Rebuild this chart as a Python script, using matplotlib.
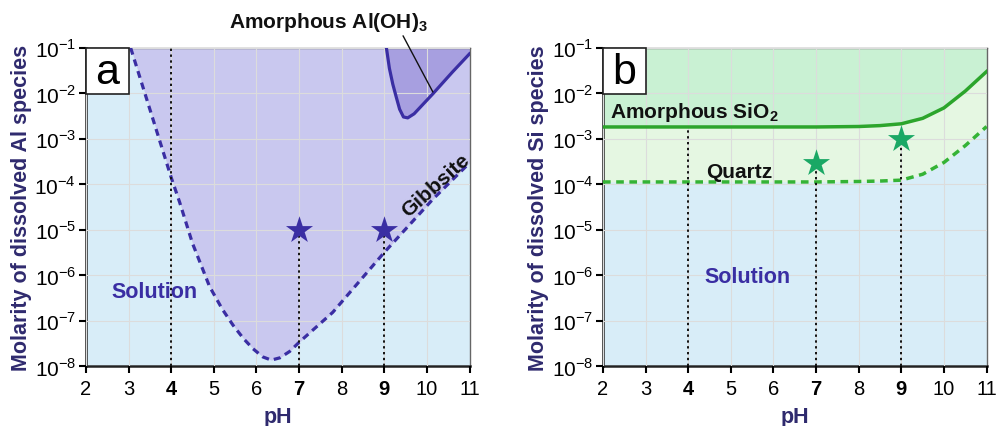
import numpy as np
import matplotlib.pyplot as plt
from matplotlib.patches import Rectangle

plt.rcParams['font.family'] = ['Liberation Sans', 'DejaVu Sans']
plt.rcParams['mathtext.fontset'] = 'custom'
plt.rcParams['mathtext.rm'] = 'Liberation Sans'
plt.rcParams['mathtext.bf'] = 'Liberation Sans:bold'

# ---------------------------------------------------------------
# data (log10 of molarity)
# ---------------------------------------------------------------
gib_ph = [3.05, 4.0, 4.2, 4.5, 4.9, 5.2, 5.45, 5.7, 5.92, 6.15, 6.35, 6.55, 6.78, 7.0, 7.79, 9.0, 10.14, 11.0]
gib_log = [-1.0, -3.85, -4.40, -5.30, -6.25, -6.75, -7.10, -7.40, -7.62, -7.80, -7.87, -7.82, -7.68, -7.48, -6.82, -5.50, -4.33, -3.53]

amo_al_ph = [9.05, 9.12, 9.2, 9.28, 9.36, 9.45, 9.55, 9.7, 10.14, 10.6, 11.0]
amo_al_log = [-1.0, -1.45, -1.8, -2.08, -2.35, -2.52, -2.54, -2.45, -2.01, -1.53, -1.13]

si_ph = [2, 3, 4, 5, 6, 7, 8, 8.5, 9, 9.5, 10, 10.5, 11]
amo_si_log = [-2.74, -2.74, -2.74, -2.74, -2.74, -2.74, -2.73, -2.71, -2.67, -2.55, -2.32, -1.95, -1.52]
qtz_log = [-3.95, -3.95, -3.95, -3.95, -3.95, -3.95, -3.94, -3.93, -3.91, -3.78, -3.52, -3.15, -2.73]

stars_al_ph = [7, 9]
stars_al = [1e-5, 1e-5]
stars_si_ph = [7, 9]
stars_si = [3e-4, 1e-3]

xticks = list(range(2, 12))
bold_ticks = [4, 7, 9]
yticks = [10.0 ** k for k in range(-8, 0)]

BLUE_BG = '#d8edf8'
PURP = '#c9c8ef'
PURP_DK = '#a79fe0'
PURP_LN = '#3a2ea3'
GREEN_TOP = '#c9f1d3'
GREEN_MID = '#e5f7e2'
GREEN_LN = '#2ca52c'
GREEN_STAR = '#1aa865'
LABEL_C = '#2f2a6e'
DOT = (0, (1.2, 1.8))


def style_axes(ax, ylabel):
    ax.set_yscale('log')
    ax.set_xlim(2, 11)
    ax.set_ylim(1e-8, 1e-1)
    ax.set_xticks(xticks)
    ax.set_yticks(yticks)
    ax.minorticks_off()
    ax.set_yticklabels([r'$10^{%d}$' % k for k in range(-8, 0)], fontsize=15)
    ax.set_xticklabels([str(t) for t in xticks], fontsize=14.5)
    for lab, t in zip(ax.get_xticklabels(), xticks):
        if t in bold_ticks:
            lab.set_fontweight('bold')
    ax.tick_params(direction='out', length=5, width=1.5, pad=2)
    ax.tick_params(axis='x', pad=4)
    ax.grid(True, color='#dcdcdc', lw=0.8, zorder=1)
    ax.set_axisbelow(False)
    for s in ['left', 'bottom']:
        ax.spines[s].set_linewidth(1.8)
        ax.spines[s].set_color('#222222')
    for s in ['top', 'right']:
        ax.spines[s].set_linewidth(1.0)
        ax.spines[s].set_color('#666666')
    ax.set_xlabel('pH', fontsize=15.5, fontweight='bold', color=LABEL_C, labelpad=6)
    ax.set_ylabel(ylabel, fontsize=15.5, fontweight='bold', color=LABEL_C, labelpad=2)


def panel_letter(ax, letter):
    ax.add_patch(Rectangle((0, 0.855), 0.112, 0.145, transform=ax.transAxes,
                           fc='white', ec='#222222', lw=1.2, zorder=9, clip_on=False))
    ax.text(0.056, 0.925, letter, transform=ax.transAxes, fontsize=31, ha='center',
            va='center', zorder=10)


fig = plt.figure(figsize=(9.99, 4.27), dpi=100)
ax1 = fig.add_axes([0.086, 0.1405, 0.384, 0.745])
ax2 = fig.add_axes([0.6036, 0.1405, 0.384, 0.745])

# ---------------- panel a ----------------
ax1.set_facecolor(BLUE_BG)
gx = np.array(gib_ph)
gy = 10.0 ** np.array(gib_log)
ax1.fill_between(gx, gy, 1e-1, color=PURP, lw=0, zorder=0.5)
ax1.plot(gx, gy, ls=(0, (2.2, 1.6)), color=PURP_LN, lw=2.3, zorder=3)

ax_ = np.array(amo_al_ph)
ay_ = 10.0 ** np.array(amo_al_log)
ax1.fill_between(ax_, ay_, 1e-1, color=PURP_DK, lw=0, zorder=2)
ax1.plot(ax_, ay_, color=PURP_LN, lw=2.3, zorder=3)

ax1.vlines(4, 1e-8, 1e-1, colors='#111111', linestyles=DOT, lw=1.4, zorder=4)
for p, v in zip(stars_al_ph, stars_al):
    ax1.vlines(p, 1e-8, v, colors='#111111', linestyles=DOT, lw=1.4, zorder=4)
ax1.scatter(stars_al_ph, stars_al, marker='*', s=420, color=PURP_LN, lw=0, zorder=5)

ax1.text(3.6, 10 ** -6.35, 'Solution', fontsize=15.5, fontweight='bold', color='#3a2ea3',
         ha='center', va='center', zorder=6)
ax1.text(10.2, 10 ** -4.02, 'Gibbsite', fontsize=15, fontweight='bold', color='#111111',
         rotation=42, ha='center', va='center', zorder=6)
ax1.annotate(r'Amorphous Al(OH)$_\mathbf{3}$', xy=(10.14, 10 ** -1.97),
             xytext=(7.68, 10 ** -0.42), fontsize=15, fontweight='bold', color='#111111',
             ha='center', va='center', annotation_clip=False,
             arrowprops=dict(arrowstyle='-', color='#111111', lw=1.0,
                             shrinkA=0, shrinkB=0, relpos=(0.87, 0.0)))
style_axes(ax1, 'Molarity of dissolved Al species')
panel_letter(ax1, 'a')

# ---------------- panel b ----------------
ax2.set_facecolor(BLUE_BG)
sx = np.array(si_ph)
sa = 10.0 ** np.array(amo_si_log)
sq = 10.0 ** np.array(qtz_log)
ax2.fill_between(sx, sa, 1e-1, color=GREEN_TOP, lw=0, zorder=0.5)
ax2.fill_between(sx, sq, sa, color=GREEN_MID, lw=0, zorder=0.5)
ax2.plot(sx, sa, color=GREEN_LN, lw=2.5, zorder=3)
ax2.plot(sx, sq, ls=(0, (2.2, 1.6)), color='#35b335', lw=2.5, zorder=3)

ax2.vlines(4, 1e-8, 10 ** -2.74, colors='#111111', linestyles=DOT, lw=1.4, zorder=4)
for p, v in zip(stars_si_ph, stars_si):
    ax2.vlines(p, 1e-8, v, colors='#111111', linestyles=DOT, lw=1.4, zorder=4)
ax2.scatter(stars_si_ph, stars_si, marker='*', s=420, color=GREEN_STAR, lw=0, zorder=5)

ax2.text(2.17, 10 ** -2.41, r'Amorphous SiO$_\mathbf{2}$', fontsize=15, fontweight='bold',
         color='#111111', ha='left', va='center', zorder=6)
ax2.text(5.2, 10 ** -3.71, 'Quartz', fontsize=15, fontweight='bold', color='#111111',
         ha='center', va='center', zorder=6)
ax2.text(5.4, 10 ** -6.02, 'Solution', fontsize=15.5, fontweight='bold', color='#3a2ea3',
         ha='center', va='center', zorder=6)
style_axes(ax2, 'Molarity of dissolved Si species')
panel_letter(ax2, 'b')

fig.savefig('out.png', dpi=100)
